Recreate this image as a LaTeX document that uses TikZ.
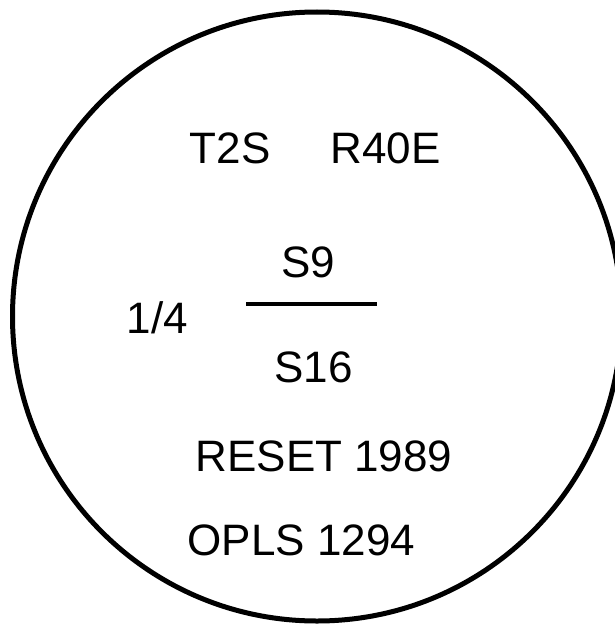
\documentclass[tikz,border=0pt]{standalone}
\usepackage{fontspec}
\setmainfont{Liberation Sans}
\begin{document}
\begin{tikzpicture}[x=1pt,y=-1pt,
  lbl/.style={anchor=base,inner sep=0pt,font=\fontsize{44}{48}\selectfont},
  ring/.style={draw=black,line width=5pt},
  bar/.style={draw=black,line width=4.5pt}]
\useasboundingbox (0,0) rectangle (614,626);
\draw[ring] (317,316.5) circle[radius=304.5];
\node[lbl] (t2s) at (230,163) {T2S};
\node[lbl] (r40e) at (385.5,163) {R40E};
\node[lbl] (s9) at (308,277) {S9};
\coordinate (barl) at (246,304);
\coordinate (barr) at (377,304);
\draw[bar] (barl) -- (barr);
\node[lbl] (q) at (157.5,333) {1/4};
\node[lbl] (s16) at (313.5,382) {S16};
\node[lbl] (reset) at (324,471) {RESET 1989};
\node[lbl] (opls) at (301.5,555) {OPLS 1294};
\end{tikzpicture}
\end{document}
